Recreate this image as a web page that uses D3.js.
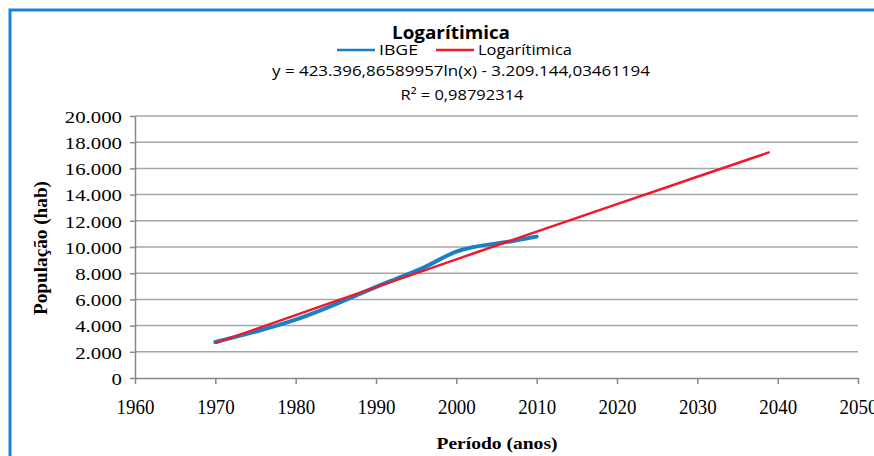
<!DOCTYPE html>
<html>
<head>
<meta charset="utf-8">
<script src="https://cdn.jsdelivr.net/npm/d3@7"></script>
<style>
  body { margin: 0; background: #fff; overflow: hidden; }
  .axis path, .axis line { stroke: #888; }
</style>
</head>
<body>
<div id="viz"></div>
<script>
// data
var ibgeYears = [1970, 1980, 1991, 1996, 2000, 2007, 2010];
var ibgePop = [2750, 4450, 7200, 8450, 9650, 10450, 10800];

// trendline values (y = 423.396,87 ln(x) - 3.209.144,03)
var trendYears = [1970, 1980, 1990, 2000, 2010, 2020, 2030, 2039];
var trendPop = [2660, 4800, 6940, 9060, 11170, 13270, 15360, 17240];

var xTicks = [1960, 1970, 1980, 1990, 2000, 2010, 2020, 2030, 2040, 2050];
var yTicks = [0, 2000, 4000, 6000, 8000, 10000, 12000, 14000, 16000, 18000, 20000];

var width = 874, height = 456;
var serif = '"Liberation Serif", "Times New Roman", serif';
var sans = '"Open Sans", "Noto Sans", sans-serif';

var svg = d3.select('#viz').append('svg')
  .attr('width', width)
  .attr('height', height);

// the original picture is stretched a bit sideways, so widen text to match
function stretch(sel, factor) {
  sel.each(function () {
    var w = this.getComputedTextLength();
    d3.select(this).attr('textLength', w * factor).attr('lengthAdjust', 'spacingAndGlyphs');
  });
}

// chart frame (blue, top + left)
svg.append('path')
  .attr('d', 'M10,456 L10,10 L874,10')
  .attr('fill', 'none')
  .attr('stroke', '#1a86d0')
  .attr('stroke-width', 3);

// plot area
var plotLeft = 135, plotRight = 858, plotTop = 116, plotBottom = 378;

var x = d3.scaleLinear().domain([1960, 2050]).range([plotLeft, plotRight]);
var y = d3.scaleLinear().domain([0, 20000]).range([plotBottom, plotTop]);

var fmt = function (d) { return d3.format(',')(d).replace(/,/g, '.'); };

// gridlines
svg.append('g')
  .selectAll('line')
  .data(yTicks.slice(1))
  .enter()
  .append('line')
  .attr('x1', plotLeft)
  .attr('x2', plotRight)
  .attr('y1', function (d) { return y(d); })
  .attr('y2', function (d) { return y(d); })
  .attr('stroke', '#a6a6a6')
  .attr('stroke-width', 1.5);

// axes
var yAxis = svg.append('g')
  .attr('class', 'axis yAxis')
  .attr('transform', 'translate(' + plotLeft + ',0)')
  .call(d3.axisLeft(y).tickValues(yTicks).tickFormat(fmt).tickSize(5).tickSizeOuter(0).tickPadding(8));
yAxis.selectAll('path, line').attr('stroke-width', 1.5);
yAxis.selectAll('text')
  .attr('font-family', serif)
  .attr('font-size', '17.5px')
  .attr('fill', '#000')
  .attr('dy', '0.36em')
  .call(stretch, 1.19);

var xAxis = svg.append('g')
  .attr('class', 'axis xAxis')
  .attr('transform', 'translate(0,' + plotBottom + ')')
  .call(d3.axisBottom(x).tickValues(xTicks).tickFormat(d3.format('d')).tickSize(6).tickSizeOuter(0).tickPadding(15));
xAxis.selectAll('path, line').attr('stroke-width', 1.5);
xAxis.selectAll('text')
  .attr('font-family', serif)
  .attr('font-size', '21px')
  .attr('fill', '#000')
  .call(stretch, 0.9);

// axis titles
svg.append('text')
  .attr('x', 497)
  .attr('y', 449)
  .attr('text-anchor', 'middle')
  .attr('font-family', serif)
  .attr('font-weight', 'bold')
  .attr('font-size', '17px')
  .attr('textLength', 121)
  .attr('lengthAdjust', 'spacingAndGlyphs')
  .text('Período (anos)');

svg.append('text')
  .attr('transform', 'translate(47,248) rotate(-90)')
  .attr('text-anchor', 'middle')
  .attr('font-family', serif)
  .attr('font-weight', 'bold')
  .attr('font-size', '19px')
  .attr('textLength', 134)
  .attr('lengthAdjust', 'spacingAndGlyphs')
  .text('População (hab)');

// lines
var line = d3.line()
  .x(function (d) { return x(d[0]); })
  .y(function (d) { return y(d[1]); })
  .curve(d3.curveMonotoneX);

svg.append('path')
  .datum(d3.zip(ibgeYears, ibgePop))
  .attr('d', line)
  .attr('fill', 'none')
  .attr('stroke', '#1a80c4')
  .attr('stroke-width', 4)
  .attr('stroke-linecap', 'round');

svg.append('path')
  .datum(d3.zip(trendYears, trendPop))
  .attr('d', line)
  .attr('fill', 'none')
  .attr('stroke', '#f0182c')
  .attr('stroke-width', 2.5);

// title, legend, equation
svg.append('text')
  .attr('x', 451)
  .attr('y', 39)
  .attr('text-anchor', 'middle')
  .attr('font-family', sans)
  .attr('font-weight', 'bold')
  .attr('font-size', '17px')
  .attr('textLength', 118)
  .attr('lengthAdjust', 'spacingAndGlyphs')
  .text('Logarítimica');

var legend = svg.append('g');
legend.append('line').attr('x1', 337).attr('x2', 375).attr('y1', 50).attr('y2', 50)
  .attr('stroke', '#1a80c4').attr('stroke-width', 2.5);
legend.append('text').attr('x', 379).attr('y', 55)
  .attr('font-family', sans).attr('font-size', '15px')
  .attr('textLength', 39).attr('lengthAdjust', 'spacingAndGlyphs')
  .text('IBGE');
legend.append('line').attr('x1', 436).attr('x2', 474).attr('y1', 50).attr('y2', 50)
  .attr('stroke', '#f0182c').attr('stroke-width', 2.5);
legend.append('text').attr('x', 478).attr('y', 55)
  .attr('font-family', sans).attr('font-size', '15px')
  .attr('textLength', 94).attr('lengthAdjust', 'spacingAndGlyphs')
  .text('Logarítimica');

svg.append('text')
  .attr('x', 461)
  .attr('y', 76)
  .attr('text-anchor', 'middle')
  .attr('font-family', sans)
  .attr('font-size', '15px')
  .attr('textLength', 378)
  .attr('lengthAdjust', 'spacingAndGlyphs')
  .text('y = 423.396,86589957ln(x)  - 3.209.144,03461194');

svg.append('text')
  .attr('x', 462)
  .attr('y', 100)
  .attr('text-anchor', 'middle')
  .attr('font-family', sans)
  .attr('font-size', '15px')
  .attr('textLength', 123)
  .attr('lengthAdjust', 'spacingAndGlyphs')
  .text('R² = 0,98792314');
</script>
</body>
</html>
